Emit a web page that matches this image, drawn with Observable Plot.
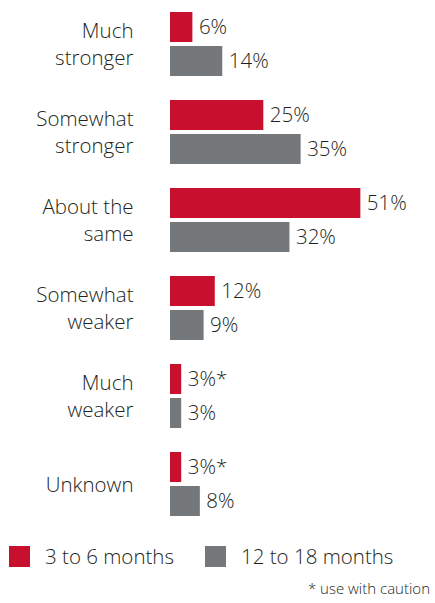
<!DOCTYPE html>
<html>
<head>
<meta charset="utf-8">
<script src="https://cdn.jsdelivr.net/npm/d3@7"></script>
<script src="https://cdn.jsdelivr.net/npm/@observablehq/plot@0.6"></script>
<style>
  html, body { margin: 0; padding: 0; background: #fff; }
  #wrap { position: relative; width: 435px; height: 603px; font-family: "Open Sans", sans-serif; font-weight: 350; color: #231f20; }
  #chart svg { display: block; }
  .sw { position: absolute; width: 21px; height: 21px; }
  .lt { position: absolute; font-size: 20.5px; line-height: 20px; white-space: nowrap; }
  #note { position: absolute; right: 5px; top: 580px; font-size: 15px; line-height: 16px; white-space: nowrap; }
</style>
</head>
<body>
<div id="wrap">
  <div id="chart"></div>
  <div id="legend"></div>
  <div id="note">* use with caution</div>
</div>
<script>
// Categories (tick labels, with line breaks) and the two survey periods
const categories = ["Much\nstronger", "Somewhat\nstronger", "About the\nsame", "Somewhat\nweaker", "Much\nweaker", "Unknown"];
const series = ["3 to 6 months", "12 to 18 months"];
const colors = ["#c8102e", "#75787b"];

// Percent values per period, and the caution flag on each value label
const shortTerm = [6, 25, 51, 12, 3, 3];
const longTerm = [14, 35, 32, 9, 3, 8];
const shortNotes = ["", "", "", "", "*", "*"];
const longNotes = ["", "", "", "", "", ""];

const data = categories.flatMap((c, i) => [
  {category: c, series: series[0], value: shortTerm[i], note: shortNotes[i]},
  {category: c, series: series[1], value: longTerm[i], note: longNotes[i]}
]);

const chart = Plot.plot({
  width: 435,
  height: 526,
  marginLeft: 170,
  marginRight: 0,
  marginTop: 10,
  marginBottom: 7.5,
  facet: {marginTop: 0, marginBottom: 0, marginLeft: 0, marginRight: 0},
  style: {fontFamily: "'Open Sans', sans-serif", fontWeight: 350, color: "#231f20", background: "#fff"},
  x: {domain: [0, 71], axis: null},
  y: {domain: series, paddingInner: 0.114, paddingOuter: 0, axis: null},
  fy: {domain: categories, paddingInner: 0.254, paddingOuter: 0},
  color: {domain: series, range: colors},
  marks: [
    Plot.axisFy({anchor: "left", tickSize: 0, tickPadding: 37, dy: -1.5, fontSize: 20.5, lineHeight: 1.33, label: null, fill: "#231f20"}),
    Plot.barX(data, {x: "value", y: "series", fy: "category", fill: "series"}),
    Plot.text(data, {
      x: "value", y: "series", fy: "category",
      text: d => `${d.value}%${d.note}`,
      textAnchor: "start", dx: 6, fontSize: 20.5, fill: "#231f20"
    })
  ]
});
document.getElementById("chart").append(chart);

// Legend swatches below the chart
const legend = document.getElementById("legend");
const swatchLeft = [9, 205];
series.forEach((s, i) => {
  const sw = document.createElement("div");
  sw.className = "sw";
  sw.style.left = swatchLeft[i] + "px";
  sw.style.top = "546px";
  sw.style.background = colors[i];
  legend.append(sw);
  const t = document.createElement("div");
  t.className = "lt";
  t.style.left = (swatchLeft[i] + 36) + "px";
  t.style.top = "546px";
  t.textContent = s;
  legend.append(t);
});
</script>
</body>
</html>
